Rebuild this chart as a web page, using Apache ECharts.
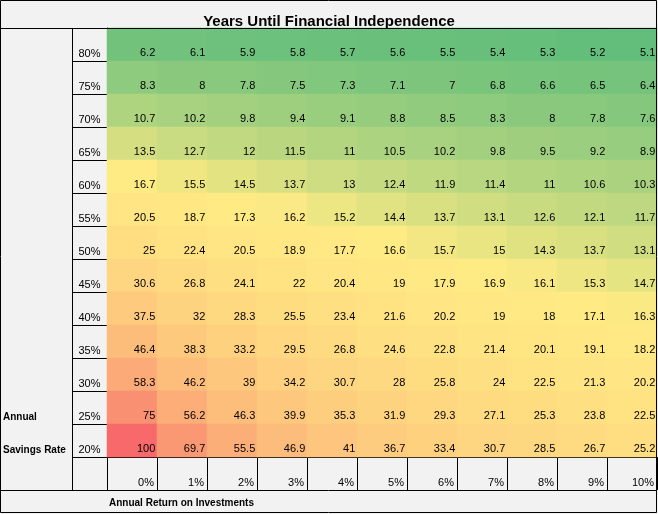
<!DOCTYPE html>
<html>
<head>
<meta charset="utf-8">
<script src="https://cdn.jsdelivr.net/npm/echarts@6/dist/echarts.min.js"></script>
<style>html,body{margin:0;padding:0;background:#F2F2F2}#c{width:658px;height:514px}</style>
</head>
<body>
<div id="c"></div>
<script>
const titleText = 'Years Until Financial Independence';
const xTitle = 'Annual Return on Investments';
const returnLabels = ['0%','1%','2%','3%','4%','5%','6%','7%','8%','9%','10%'];
const savingsLabels = ['80%','75%','70%','65%','60%','55%','50%','45%','40%','35%','30%','25%','20%'];
const sideLabels = ['','','','','','','','','','','','Annual','Savings Rate'];
const r80 = [6.2,6.1,5.9,5.8,5.7,5.6,5.5,5.4,5.3,5.2,5.1];
const r75 = [8.3,8,7.8,7.5,7.3,7.1,7,6.8,6.6,6.5,6.4];
const r70 = [10.7,10.2,9.8,9.4,9.1,8.8,8.5,8.3,8,7.8,7.6];
const r65 = [13.5,12.7,12,11.5,11,10.5,10.2,9.8,9.5,9.2,8.9];
const r60 = [16.7,15.5,14.5,13.7,13,12.4,11.9,11.4,11,10.6,10.3];
const r55 = [20.5,18.7,17.3,16.2,15.2,14.4,13.7,13.1,12.6,12.1,11.7];
const r50 = [25,22.4,20.5,18.9,17.7,16.6,15.7,15,14.3,13.7,13.1];
const r45 = [30.6,26.8,24.1,22,20.4,19,17.9,16.9,16.1,15.3,14.7];
const r40 = [37.5,32,28.3,25.5,23.4,21.6,20.2,19,18,17.1,16.3];
const r35 = [46.4,38.3,33.2,29.5,26.8,24.6,22.8,21.4,20.1,19.1,18.2];
const r30 = [58.3,46.2,39,34.2,30.7,28,25.8,24,22.5,21.3,20.2];
const r25 = [75,56.2,46.3,39.9,35.3,31.9,29.3,27.1,25.3,23.8,22.5];
const r20 = [100,69.7,55.5,46.9,41,36.7,33.4,30.7,28.5,26.7,25.2];
const rows = [r80,r75,r70,r65,r60,r55,r50,r45,r40,r35,r30,r25,r20];

// Excel-style 3 colour scale: min -> green, 50th percentile -> yellow, max -> red
const all = rows.flat().slice().sort((a,b)=>a-b);
const vmin = all[0], vmax = all[all.length-1];
const pos = (all.length-1)*0.5, lo = Math.floor(pos);
const vmid = all[lo] + (all[Math.min(lo+1,all.length-1)]-all[lo])*(pos-lo);
function scalePos(v){ return v <= vmid ? (v-vmin)/(vmid-vmin) : 1 + (v-vmid)/(vmax-vmid); }

const data = [];
rows.forEach((row, yi) => row.forEach((v, xi) => data.push([xi, yi, v, scalePos(v)])));

const FONT = '"Liberation Sans", Arial, sans-serif';
const chart = echarts.init(document.getElementById('c'));
chart.setOption({
  backgroundColor: '#F2F2F2',
  animation: false,
  textStyle: { fontFamily: FONT },
  title: {
    text: titleText, left: 'center', top: 7,
    textStyle: { fontFamily: FONT, fontSize: 15, fontWeight: 'bold', color: '#000', lineHeight: 20 }
  },
  grid: { left: 107, top: 28, width: 550, height: 429 },
  xAxis: {
    type: 'category', data: returnLabels, position: 'bottom',
    axisLine: { lineStyle: { color: '#000', width: 1 } },
    axisTick: { show: true, interval: 0, length: 33, lineStyle: { color: '#000' } },
    splitLine: { show: false },
    axisLabel: {
      interval: 0, margin: 16, color: '#000', fontFamily: FONT, fontSize: 11, lineHeight: 19,
      formatter: v => '{a|' + v + '}',
      rich: { a: { width: 44, align: 'right', fontFamily: FONT, fontSize: 11, lineHeight: 19, color: '#000' } }
    }
  },
  yAxis: [{
    type: 'category', data: savingsLabels, inverse: true,
    axisLine: { lineStyle: { color: '#000', width: 1 } },
    axisTick: { show: true, interval: 0, length: 35, lineStyle: { color: '#000' } },
    splitLine: { show: false },
    axisLabel: { interval: 0, margin: 17.5, align: 'center', verticalAlign: 'top', lineHeight: 19,
      color: '#000', fontFamily: FONT, fontSize: 11 }
  }, {
    type: 'category', data: savingsLabels, inverse: true, position: 'left',
    axisLine: { show: false }, axisTick: { show: false }, splitLine: { show: false },
    axisLabel: { interval: 0, margin: 104, align: 'left', verticalAlign: 'top', lineHeight: 19,
      color: '#000', fontFamily: FONT, fontSize: 10, fontWeight: 'bold',
      formatter: (v, i) => sideLabels[i] }
  }],
  visualMap: {
    show: false, type: 'continuous', dimension: 3, min: 0, max: 2,
    inRange: { color: ['#63BE7B', '#FFEB84', '#F8696B'] }
  },
  series: [{
    type: 'heatmap', data: data,
    itemStyle: { borderWidth: 0 },
    emphasis: { disabled: true },
    label: {
      show: true, position: 'insideBottomRight', distance: 2,
      color: '#000', fontFamily: FONT, fontSize: 11, lineHeight: 12,
      formatter: p => String(p.value[2])
    }
  }],
  graphic: [
    { type: 'rect', shape: { x: 0.5, y: 0.5, width: 656, height: 512 }, style: { fill: null, stroke: '#000', lineWidth: 1 }, z: 100 },
    { type: 'line', shape: { x1: 0, y1: 28.5, x2: 657, y2: 28.5 }, style: { stroke: '#000', lineWidth: 1 }, z: 100 },
    { type: 'line', shape: { x1: 0, y1: 490.5, x2: 657, y2: 490.5 }, style: { stroke: '#000', lineWidth: 1 }, z: 100 },
    { type: 'line', shape: { x1: 72.5, y1: 28, x2: 72.5, y2: 491 }, style: { stroke: '#000', lineWidth: 1 }, z: 100 },
    { type: 'text', left: 109, top: 498, style: { text: xTitle, font: 'bold 10px ' + FONT, fill: '#000' } }
  ]
});
</script>
</body>
</html>
